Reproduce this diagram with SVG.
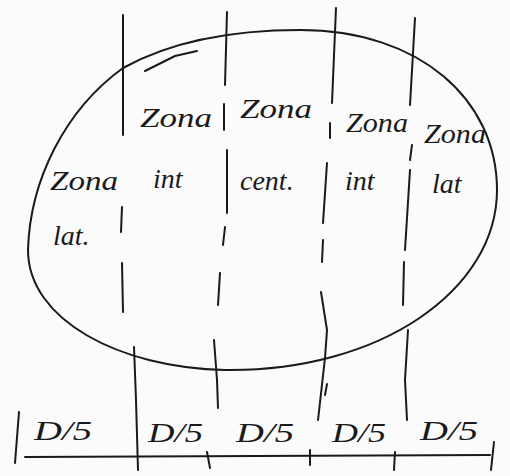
<svg xmlns="http://www.w3.org/2000/svg" width="510" height="476" viewBox="0 0 510 476">
<style>
.ln{fill:none;stroke:#1a1a1a;stroke-width:2;stroke-linecap:round;stroke-linejoin:round}
.t{font-family:"Liberation Serif",serif;font-style:italic;font-size:28px;fill:#1a1a1a}
</style>
<rect width="510" height="476" fill="#fbfbfb"/>
<g id="ellipse">
<path class="ln" d="M 28 250 C 30 180 65 110 123 68 C 170 42 230 30 300 30 C 420 30 497 100 497 190 C 497 290 380 372 225 370 C 120 368 28 320 28 250 Z"/>
<path class="ln" d="M 145 71 L 175 56 L 197 51"/>
</g>
<g id="connectors">
<path class="ln" d="M 123 15 L 123 135 M 122 207 L 121 232 M 122 263 L 123 312 M 134 347 L 136 400 L 138 470"/>
<path class="ln" d="M 227 12 L 225 85 M 224 104 L 224 130 M 227 150 L 227 213 M 225 227 L 223 245 M 220 273 L 218 305 M 214 340 L 217 380 L 218 408 M 207 452 L 210 468"/>
<path class="ln" d="M 336 8 L 332 103 M 330 123 L 330 138 M 327 163 L 323 223 M 323 240 L 322 262 M 321 292 L 327 330 L 325 358 L 318 420 M 327 384 L 325 395 M 310 450 L 310 465"/>
<path class="ln" d="M 415 18 L 410 105 M 412 145 L 410 160 M 410 170 L 405 250 M 404 262 L 403 305 M 408 330 L 405 380 L 407 420 M 395 452 L 394 470"/>
<path class="ln" d="M 25 457 L 490 455"/>
<path class="ln" d="M 19 412 L 15 463"/>
<path class="ln" d="M 494 442 L 491 470"/>
</g>
<g id="zone-lat-left">
<text class="t" x="50" y="190" textLength="68" lengthAdjust="spacingAndGlyphs">Zona</text>
<text class="t" x="53" y="245">lat.</text>
</g>
<g id="zone-int-left">
<text class="t" x="140" y="127" textLength="72" lengthAdjust="spacingAndGlyphs">Zona</text>
<text class="t" x="153" y="188">int</text>
</g>
<g id="zone-cent">
<text class="t" x="240" y="118" textLength="72" lengthAdjust="spacingAndGlyphs">Zona</text>
<text class="t" x="240" y="190">cent.</text>
</g>
<g id="zone-int-right">
<text class="t" x="346" y="132" textLength="62" lengthAdjust="spacingAndGlyphs">Zona</text>
<text class="t" x="345" y="190">int</text>
</g>
<g id="zone-lat-right">
<text class="t" x="424" y="143" textLength="62" lengthAdjust="spacingAndGlyphs">Zona</text>
<text class="t" x="432" y="193">lat</text>
</g>
<g id="labels">
<text class="t" x="34" y="440" textLength="58" lengthAdjust="spacingAndGlyphs">D/5</text>
<text class="t" x="148" y="442" textLength="55" lengthAdjust="spacingAndGlyphs">D/5</text>
<text class="t" x="236" y="442" textLength="58" lengthAdjust="spacingAndGlyphs">D/5</text>
<text class="t" x="332" y="442" textLength="54" lengthAdjust="spacingAndGlyphs">D/5</text>
<text class="t" x="420" y="440" textLength="58" lengthAdjust="spacingAndGlyphs">D/5</text>
</g>
</svg>
